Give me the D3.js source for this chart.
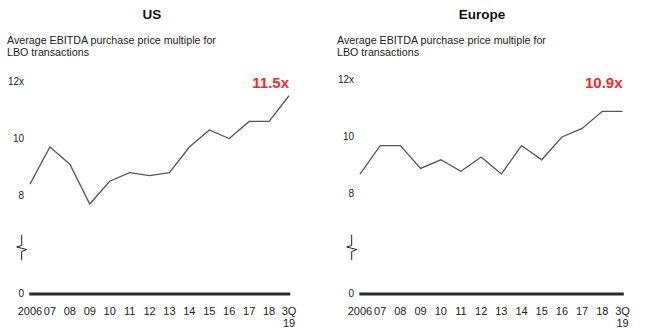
<!DOCTYPE html>
<html>

<head>
  <title>LBO purchase price multiples</title>
  <script src="https://cdn.jsdelivr.net/npm/d3@7"></script>
  <style>
    body {
      margin: 0;
      background: #fff;
      font-family: "Liberation Sans", Arial, sans-serif;
    }

    .title {
      font-size: 13.5px;
      font-weight: bold;
      fill: #111;
    }

    .subtitle {
      font-size: 10.7px;
      fill: #222;
    }

    .ytick,
    .xtick {
      fill: #222;
    }

    .ytick {
      font-size: 10px;
    }

    .xtick {
      font-size: 11px;
    }

    .callout {
      font-size: 15px;
      font-weight: bold;
      fill: #f5282a;
    }
  </style>
</head>

<body>
  <div id="chart"></div>
  <script>
    const categories = ["2006", "07", "08", "09", "10", "11", "12", "13", "14", "15", "16", "17", "18", "3Q\n19"];
    const usValues = [8.4, 9.7, 9.1, 7.7, 8.5, 8.8, 8.7, 8.8, 9.7, 10.3, 10.0, 10.6, 10.6, 11.5];
    const europeValues = [8.7, 9.7, 9.7, 8.9, 9.2, 8.8, 9.3, 8.7, 9.7, 9.2, 10.0, 10.3, 10.9, 10.9];
    const yTicks = [0, 8, 10, 12];
    const panelTitles = ["US", "Europe"];
    const subtitleLines = ["Average EBITDA purchase price multiple for", "LBO transactions"];
    const calloutLabels = ["11.5x", "10.9x"];

    const width = 647;
    const height = 334;

    const svg = d3.select("#chart").append("svg")
      .attr("width", width)
      .attr("height", height);

    // one entry per panel: horizontal offset, plot extent and vertical nudge
    const panels = [
      { values: usValues, left: 0, x0: 30, x1: 289, shift: 0 },
      { values: europeValues, left: 330, x0: 30, x1: 292.5, shift: -1.5 }
    ];

    panels.forEach((p, i) => {
      const g = svg.append("g").attr("transform", `translate(${p.left},0)`);

      const x = d3.scalePoint()
        .domain(categories)
        .range([p.x0, p.x1]);

      // broken axis: 0 sits at the baseline, the upper piece starts at 7
      const y = d3.scaleLinear()
        .domain([0, 7, 12])
        .range([294, 224 + p.shift, 81.5 + p.shift]);

      g.append("text")
        .attr("class", "title")
        .attr("x", 152)
        .attr("y", 19)
        .attr("text-anchor", "middle")
        .text(panelTitles[i]);

      g.append("text")
        .attr("class", "subtitle")
        .attr("x", 7)
        .attr("y", 44)
        .selectAll("tspan")
        .data(subtitleLines)
        .enter().append("tspan")
        .attr("x", 7)
        .attr("dy", (d, j) => j === 0 ? 0 : 12)
        .text(d => d);

      g.selectAll(".ytick")
        .data(yTicks)
        .enter().append("text")
        .attr("class", "ytick")
        .attr("x", 24)
        .attr("y", d => y(d))
        .attr("dy", "0.32em")
        .attr("text-anchor", "end")
        .text(d => d === 12 ? "12x" : d);

      // axis break mark
      const bx = 21.7;
      g.append("path")
        .attr("d", `M${bx},235 V245.5 L${bx - 5},247 L${bx + 5},249.5 L${bx},251.5 V260`)
        .attr("fill", "none")
        .attr("stroke", "#222")
        .attr("stroke-width", 1);

      g.append("line")
        .attr("x1", p.x0 - 0.7)
        .attr("x2", p.x1 + 1.3)
        .attr("y1", y(0))
        .attr("y2", y(0))
        .attr("stroke", "#2b2b2b")
        .attr("stroke-width", 3);

      const line = d3.line()
        .x((d, j) => x(categories[j]))
        .y(d => y(d));

      g.append("path")
        .datum(p.values)
        .attr("d", line)
        .attr("fill", "none")
        .attr("stroke", "#555")
        .attr("stroke-width", 1.3)
        .attr("stroke-linejoin", "miter");

      g.append("text")
        .attr("class", "callout")
        .attr("x", x(categories[categories.length - 1]))
        .attr("y", 88)
        .attr("text-anchor", "end")
        .text(calloutLabels[i]);

      const xt = g.selectAll(".xtick")
        .data(categories)
        .enter().append("text")
        .attr("class", "xtick")
        .attr("x", d => x(d))
        .attr("y", 315)
        .attr("text-anchor", "middle");

      xt.selectAll("tspan")
        .data(d => d.split("\n").map(s => ({ s, x: x(d) })))
        .enter().append("tspan")
        .attr("x", d => d.x)
        .attr("dy", (d, j) => j === 0 ? 0 : 12)
        .text(d => d.s);
    });
  </script>
</body>

</html>
